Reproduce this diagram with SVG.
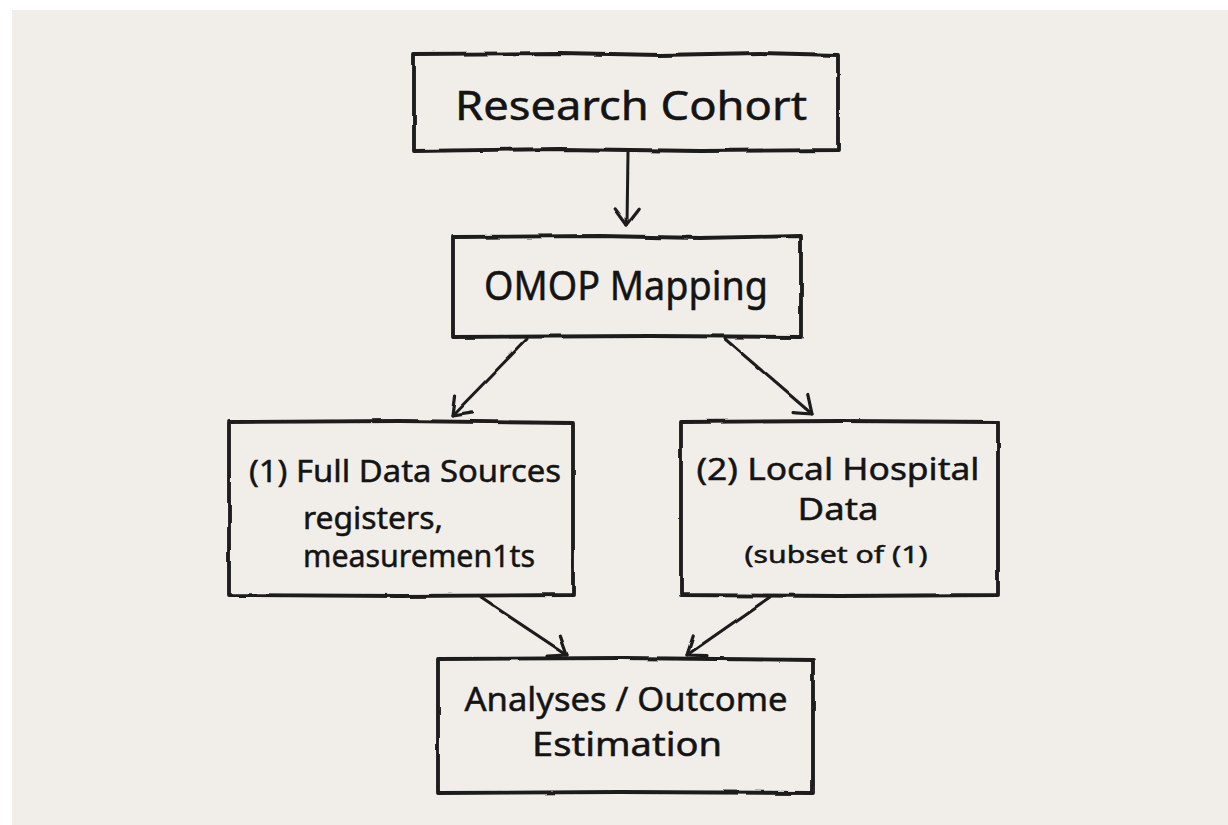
<svg xmlns="http://www.w3.org/2000/svg" width="1228" height="825" viewBox="0 0 1228 825">
  <defs>
    <filter id="rough" x="-5%" y="-5%" width="110%" height="110%">
      <feTurbulence type="fractalNoise" baseFrequency="0.03" numOctaves="2" seed="3" result="n"/>
      <feDisplacementMap in="SourceGraphic" in2="n" scale="3" xChannelSelector="R" yChannelSelector="G"/>
    </filter>
    <marker id="arrow" viewBox="-3 -3 22 30" refX="16" refY="12" markerWidth="22" markerHeight="30" markerUnits="userSpaceOnUse" orient="auto">
      <path d="M0,0 L16,12 L0,24" fill="none" stroke="#1b1b1b" stroke-width="3.2" stroke-linecap="round" stroke-linejoin="round"/>
    </marker>
  </defs>
  <style>
    .box { fill: none; stroke: #1b1b1b; stroke-width: 3.8; stroke-linejoin: round; stroke-linecap: round; }
    .conn { fill: none; stroke: #1b1b1b; stroke-width: 3; stroke-linecap: round; }
    .t { font-family: "Noto Sans", "Open Sans", sans-serif; fill: #141414; stroke: #141414; stroke-width: 0.5; }
    .big { font-size: 40px; }
    .ana { font-size: 32px; }
    .mid { font-size: 31px; }
    .small { font-size: 24px; }
  </style>
  <rect x="0" y="0" width="1228" height="825" fill="#ffffff"/>
  <rect x="12" y="10" width="1216" height="815" fill="#f1eee9"/>

  <g id="connectors" filter="url(#rough)">
    <path class="conn" d="M628,152 L627,225" marker-end="url(#arrow)"/>
    <path class="conn" d="M527,339 L452,416" marker-end="url(#arrow)"/>
    <path class="conn" d="M725,339 L812,414" marker-end="url(#arrow)"/>
    <path class="conn" d="M480,597 L567,655" marker-end="url(#arrow)"/>
    <path class="conn" d="M770,597 L687,655" marker-end="url(#arrow)"/>
  </g>

  <g id="node-research-cohort">
    <path class="box" filter="url(#rough)" d="M414,54 L560,53 L660,55 L760,53 L838,55 L838,150 L700,151 L560,149 L414,151 Z"/>
    <text class="t big" x="631" y="120" text-anchor="middle" textLength="352" lengthAdjust="spacingAndGlyphs">Research Cohort</text>
  </g>

  <g id="node-omop-mapping">
    <path class="box" filter="url(#rough)" d="M453,237 L600,236 L700,238 L801,236 L801,337 L650,336 L453,337 Z"/>
    <text class="t big" x="626" y="300" text-anchor="middle" textLength="284" lengthAdjust="spacingAndGlyphs">OMOP Mapping</text>
  </g>

  <g id="node-full-data-sources">
    <path class="box" filter="url(#rough)" d="M229,422 L400,421 L573,423 L573,595 L400,596 L229,595 Z"/>
    <text class="t mid" x="249" y="482" textLength="312" lengthAdjust="spacingAndGlyphs">(1) Full Data Sources</text>
    <text class="t mid" x="303" y="529" textLength="140" lengthAdjust="spacingAndGlyphs">registers,</text>
    <text class="t mid" x="303" y="567" textLength="232" lengthAdjust="spacingAndGlyphs">measuremen1ts</text>
  </g>

  <g id="node-local-hospital-data">
    <path class="box" filter="url(#rough)" d="M681,422 L840,421 L998,422 L998,595 L840,596 L681,595 Z"/>
    <text class="t mid" x="838" y="480" text-anchor="middle" textLength="283" lengthAdjust="spacingAndGlyphs">(2) Local Hospital</text>
    <text class="t mid" x="838" y="520" text-anchor="middle" textLength="81" lengthAdjust="spacingAndGlyphs">Data</text>
    <text class="t small" x="836" y="563" text-anchor="middle" textLength="183" lengthAdjust="spacingAndGlyphs">(subset of (1)</text>
  </g>

  <g id="node-analyses">
    <path class="box" filter="url(#rough)" d="M438,659 L620,658 L813,660 L813,793 L620,792 L438,793 Z"/>
    <text class="t ana" x="626" y="711" text-anchor="middle" textLength="323" lengthAdjust="spacingAndGlyphs">Analyses / Outcome</text>
    <text class="t ana" x="627" y="756" text-anchor="middle" textLength="190" lengthAdjust="spacingAndGlyphs">Estimation</text>
  </g>
</svg>
